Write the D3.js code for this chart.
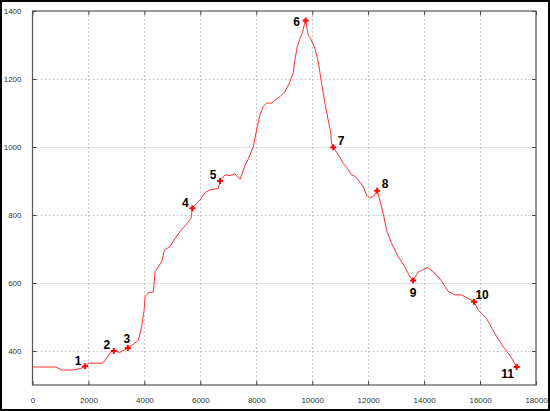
<!DOCTYPE html>
<html>
<head>
<meta charset="utf-8">
<script src="https://cdn.jsdelivr.net/npm/d3@7"></script>
<style>
  body { margin: 0; background: #fff; }
  svg { display: block; }
</style>
</head>
<body>
<script>
// profile: distance (m) vs elevation
const distances = [0, 400, 820, 1050, 1400, 1700, 1882, 2000, 2514, 2836, 2907, 3130, 3407, 3600, 3786, 3900, 3989, 4025, 4143, 4321, 4382, 4443, 4621, 4714, 4918, 5096, 5336, 5514, 5668, 5714, 5871, 5989, 6168, 6346, 6643, 6704, 6882, 7061, 7239, 7418, 7596, 7714, 7893, 8011, 8129, 8250, 8368, 8550, 8668, 8846, 9025, 9204, 9321, 9382, 9464, 9561, 9657, 9714, 9764, 9857, 9943, 10096, 10214, 10336, 10454, 10571, 10657, 10693, 10750, 10929, 11107, 11229, 11407, 11525, 11646, 11825, 11943, 12061, 12204, 12321, 12418, 12561, 12657, 12836, 13075, 13311, 13489, 13607, 13789, 13968, 14146, 14382, 14621, 14857, 15096, 15336, 15571, 15786, 15929, 16229, 16525, 16821, 17061, 17310];
const elevations = [353, 353, 353, 344, 344, 348, 355, 364, 364, 400, 400, 396, 409, 420, 432, 470, 520, 560, 571, 574, 633, 641, 663, 697, 707, 731, 758, 774, 790, 820, 834, 844, 866, 874, 878, 900, 918, 916, 921, 905, 945, 965, 1001, 1050, 1094, 1119, 1129, 1129, 1138, 1148, 1163, 1192, 1217, 1256, 1295, 1319, 1338, 1359, 1372, 1329, 1319, 1290, 1251, 1187, 1129, 1079, 1045, 1011, 999, 978, 952, 940, 918, 914, 903, 883, 859, 849, 856, 871, 844, 795, 756, 717, 677, 648, 619, 607, 632, 640, 645, 629, 606, 576, 565, 565, 555, 545, 521, 496, 452, 413, 388, 353];

// numbered waypoints
const pointIds = ["1", "2", "3", "4", "5", "6", "7", "8", "9", "10", "11"];
const pointX = [1882, 2907, 3407, 5714, 6704, 9764, 10750, 12321, 13607, 15786, 17310];
const pointY = [355, 400, 409, 820, 900, 1372, 999, 871, 607, 545, 353];
const pointSide = ["nw", "nw", "n", "nw", "nw", "w", "ne", "ne", "s", "ne", "sw"];

const xTicks = [0, 2000, 4000, 6000, 8000, 10000, 12000, 14000, 16000, 18000];
const yTicks = [400, 600, 800, 1000, 1200, 1400];

const w = 550;
const h = 411;

const x = d3.scaleLinear().domain([0, 18000]).range([32.5, 536]);
const y = d3.scaleLinear().domain([300, 1400]).range([385, 11]);

const svg = d3.select("body").append("svg")
  .attr("width", w)
  .attr("height", h)
  .style("font-family", "'Liberation Sans', Arial, sans-serif");

// outer frame
svg.append("rect")
  .attr("x", 1).attr("y", 1)
  .attr("width", w - 2).attr("height", h - 2)
  .attr("fill", "#fff")
  .attr("stroke", "#000")
  .attr("stroke-width", 2);

// grid
svg.append("g").selectAll("line")
  .data(xTicks.slice(1, -1))
  .join("line")
  .attr("x1", d => Math.round(x(d)) + 0.5).attr("x2", d => Math.round(x(d)) + 0.5)
  .attr("y1", y(1400)).attr("y2", y(300))
  .attr("stroke", "#c8c8c8")
  .attr("stroke-dasharray", "2,2");

svg.append("g").selectAll("line")
  .data(yTicks.slice(0, -1))
  .join("line")
  .attr("x1", x(0)).attr("x2", x(18000))
  .attr("y1", d => Math.round(y(d)) + 0.5).attr("y2", d => Math.round(y(d)) + 0.5)
  .attr("stroke", "#c8c8c8")
  .attr("stroke-dasharray", "2,2");

// axes (inward ticks, mirrored)
const tickStyle = g => {
  g.select(".domain").remove();
  g.selectAll(".tick line").attr("stroke", "#444");
  g.selectAll(".tick text").attr("fill", "#333").style("font-size", "8px");
};

svg.append("g")
  .attr("transform", "translate(0," + y(300) + ")")
  .call(d3.axisBottom(x).tickValues(xTicks).tickSizeInner(-4).tickSizeOuter(0).tickPadding(12).tickFormat(d3.format("d")))
  .call(tickStyle);

svg.append("g")
  .attr("transform", "translate(0," + y(1400) + ")")
  .call(d3.axisTop(x).tickValues(xTicks).tickSizeInner(-4).tickSizeOuter(0).tickFormat(""))
  .call(tickStyle);

svg.append("g")
  .attr("transform", "translate(" + x(0) + ",0)")
  .call(d3.axisLeft(y).tickValues(yTicks).tickSizeInner(-4).tickSizeOuter(0).tickPadding(11).tickFormat(d3.format("d")))
  .call(tickStyle);

svg.append("g")
  .attr("transform", "translate(" + x(18000) + ",0)")
  .call(d3.axisRight(y).tickValues(yTicks).tickSizeInner(-4).tickSizeOuter(0).tickFormat(""))
  .call(tickStyle);

// plot border
svg.append("rect")
  .attr("x", x(0)).attr("y", y(1400))
  .attr("width", x(18000) - x(0)).attr("height", y(300) - y(1400))
  .attr("fill", "none")
  .attr("stroke", "#555")
  .attr("stroke-width", 1.2);

// profile line
const profile = distances.map((d, i) => [d, elevations[i]]);
svg.append("path")
  .datum(profile)
  .attr("fill", "none")
  .attr("stroke", "#ff3030")
  .attr("stroke-width", 1)
  .attr("d", d3.line().x(d => x(d[0])).y(d => y(d[1])));

// waypoints
const pts = pointIds.map((id, i) => ({ id: id, px: pointX[i], py: pointY[i], side: pointSide[i] }));
const offsets = {
  nw: [-7, -6],
  n: [-1, -9],
  w: [-9, 1],
  ne: [8, -7],
  s: [0, 12],
  sw: [-9, 7]
};

svg.append("g").selectAll("path")
  .data(pts)
  .join("path")
  .attr("transform", d => "translate(" + x(d.px) + "," + y(d.py) + ")")
  .attr("d", d3.symbol().type(d3.symbolCross).size(20))
  .attr("fill", "#ff0000");

svg.append("g").selectAll("text")
  .data(pts)
  .join("text")
  .attr("x", d => x(d.px) + offsets[d.side][0])
  .attr("y", d => y(d.py) + offsets[d.side][1])
  .attr("dy", "0.36em")
  .attr("text-anchor", "middle")
  .style("font-size", "12px")
  .style("font-weight", "bold")
  .attr("fill", "#000")
  .text(d => d.id);
</script>
</body>
</html>
